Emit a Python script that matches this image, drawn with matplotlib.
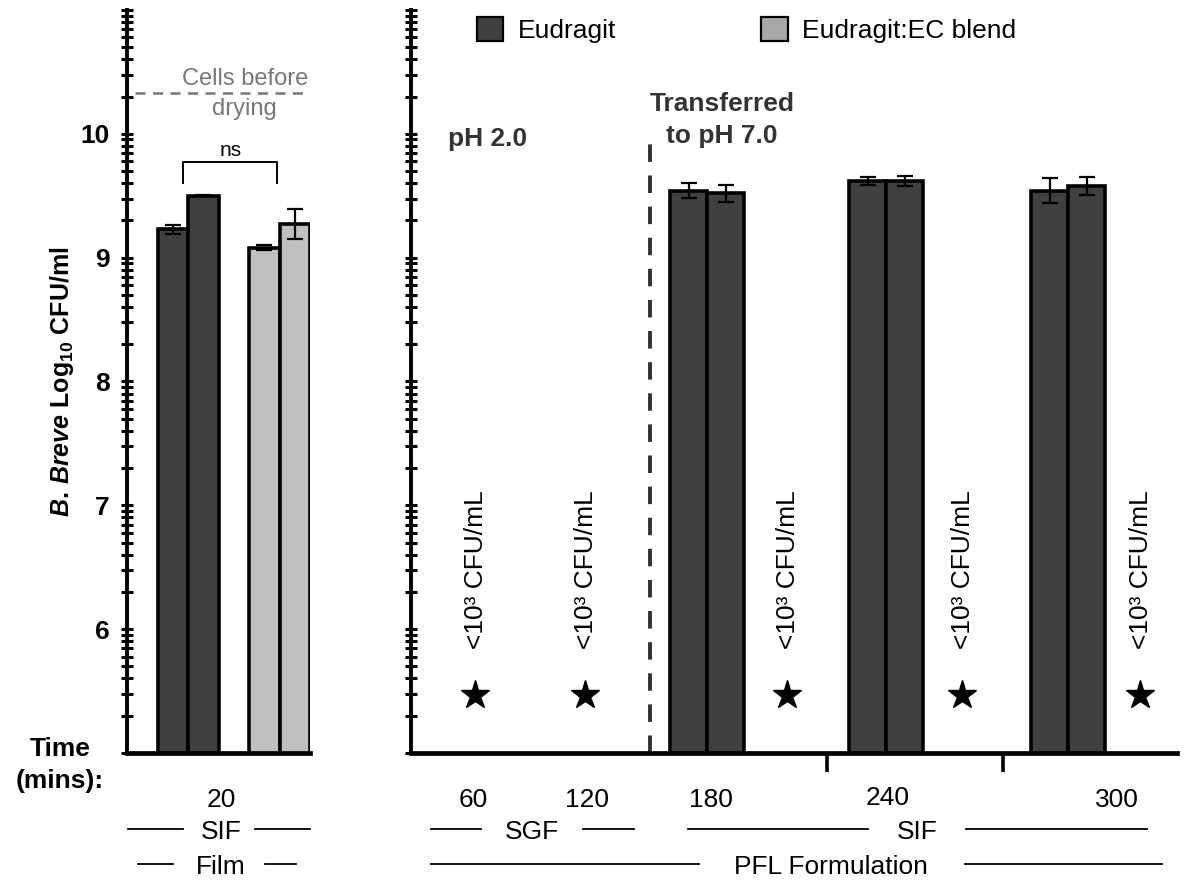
import numpy as np
import matplotlib.pyplot as plt
from matplotlib.lines import Line2D
from matplotlib.patches import Patch

plt.rcParams['font.family'] = ['Liberation Sans', 'DejaVu Sans']
plt.rcParams['mathtext.fontset'] = 'custom'
plt.rcParams['mathtext.rm'] = 'Liberation Sans:bold'
plt.rcParams['mathtext.it'] = 'Liberation Sans:bold:italic'
plt.rcParams['mathtext.bf'] = 'Liberation Sans:bold'

# data (log10 CFU/ml)
series = ['Eudragit', 'Eudragit:EC blend']
film_vals = [[9.23, 9.50], [9.08, 9.27]]
film_err = [[0.035, 0.006], [0.02, 0.12]]

times = ['60', '120', '180', '240', '300']
pfl_times = ['180', '240', '300']
pfl_vals = [[9.54, 9.52], [9.62, 9.62], [9.54, 9.58]]
pfl_err = [[0.06, 0.07], [0.03, 0.04], [0.10, 0.07]]
cells_before = 10.33

dark = '#404040'
light = '#c0c0c0'

W, H = 1184, 884
fig = plt.figure(figsize=(W / 100, H / 100), dpi=100)

def fx(px):
    return px / W

def fy(py):
    return 1 - py / H

ax_l = fig.add_axes([fx(127), fy(753), fx(310 - 127), (753 - 10) / H])
ax_r = fig.add_axes([fx(411), fy(753), fx(1177 - 411), (753 - 10) / H])

major = np.arange(5, 12)
minor = np.array([n + np.log10(k) for n in range(5, 11) for k in range(2, 10)])

for ax in (ax_l, ax_r):
    ax.set_ylim(5, 11)
    ax.set_yticks(major)
    ax.set_yticks(minor, minor=True)
    ax.tick_params(axis='y', which='both', direction='inout', length=9, width=2.2, pad=8)
    for s in ('top', 'right'):
        ax.spines[s].set_visible(False)
    ax.spines['left'].set_linewidth(2.8)
    ax.spines['bottom'].set_linewidth(3.4)
    ax.patch.set_alpha(0)

ax_l.set_yticklabels(['', '6', '7', '8', '9', '10', ''], fontsize=19, fontweight='bold')
ax_r.set_yticklabels([])

# --- left panel: film, SIF 20 min
ax_l.set_xlim(0, 6)
ax_l.set_xticks([])
centers_l = [2.0, 5.0]
cols = [dark, light]
for g in range(2):
    xs = [centers_l[g] - 0.5, centers_l[g] + 0.5]
    ax_l.bar(xs, film_vals[g], width=1.0, bottom=0, color=cols[g], edgecolor='black',
             linewidth=2.6, zorder=2)
    ax_l.errorbar(xs, film_vals[g], yerr=film_err[g], fmt='none', ecolor='black',
                  elinewidth=1.6, capsize=6, capthick=1.6, zorder=3)

ax_l.plot([0.25, 5.95], [cells_before] * 2, ls=(0, (4, 3)), color='#777777', lw=1.8)
ax_l.text(5.95, cells_before + 0.02, 'Cells before', ha='right', va='bottom',
          fontsize=17, color='#777777')
ax_l.text(3.85, cells_before - 0.04, 'drying', ha='center', va='top',
          fontsize=17, color='#777777')
ax_l.plot([1.85, 1.85, 4.93, 4.93], [9.60, 9.77, 9.77, 9.60], color='black', lw=1.4)
ax_l.text(3.39, 9.79, 'ns', ha='center', va='bottom', fontsize=15)

# --- right panel: PFL formulation
ax_r.set_xlim(0, 20.7)
pair_centers = [8.0, 12.84, 17.76]
star_x = [1.73, 4.70, 10.16, 14.9, 19.7]
for i, t in enumerate(pfl_times):
    xs = [pair_centers[i] - 0.5, pair_centers[i] + 0.5]
    ax_r.bar(xs, pfl_vals[i], width=1.0, bottom=0, color=dark, edgecolor='black',
             linewidth=2.6, zorder=2)
    ax_r.errorbar(xs, pfl_vals[i], yerr=pfl_err[i], fmt='none', ecolor='black',
                  elinewidth=1.6, capsize=6, capthick=1.6, zorder=3)

for sx in star_x:
    ax_r.plot(sx, 5.47, marker='*', markersize=21, color='black', zorder=3)
    ax_r.text(sx + 0.02, 5.84, '<10³ CFU/mL', rotation=90, ha='center', va='bottom',
              fontsize=19)

ax_r.axvline(6.46, ymin=0, ymax=5 / 6, color='#333333', lw=2.8, ls=(0, (4.5, 3.5)))
ax_r.text(1.0, 9.96, 'pH 2.0', fontsize=19, fontweight='bold', color='#333333',
          ha='left', va='center')
ax_r.text(8.4, 10.11, 'Transferred\nto pH 7.0', fontsize=19, fontweight='bold',
          color='#333333', ha='center', va='center', linespacing=1.45,
          multialignment='center')

ax_r.set_xticks([11.24, 16.0])
ax_r.set_xticklabels([])
ax_r.tick_params(axis='x', direction='out', length=14, width=2.6)

handles = [Patch(facecolor=dark, edgecolor='black', linewidth=1.6),
           Patch(facecolor='#a9a9a9', edgecolor='black', linewidth=1.6)]
fig.legend(handles, series, loc='center left', bbox_to_anchor=(fx(453), fy(30)),
           ncol=2, frameon=False, fontsize=19, handlelength=1.0, handleheight=1.0,
           handletextpad=0.55, columnspacing=5.5)

# y label
fig.text(fx(62), fy(382), r'$\it{B.\,Breve}$ Log$_{10}$ CFU/ml', rotation=90,
         ha='center', va='center', fontsize=18, fontweight='bold')
fig.text(fx(60), fy(765), 'Time\n(mins):', ha='center', va='center', fontsize=19,
         fontweight='bold', linespacing=1.4)

# time labels
fig.text(fx(221), fy(800), '20', ha='center', va='center', fontsize=19)
time_px = [473, 587, 711, 888, 1117]
time_py = [800, 800, 800, 798, 800]
for t, px, py in zip(times, time_px, time_py):
    fig.text(fx(px), fy(py), t, ha='center', va='center', fontsize=19)

# group labels with side rules
groups = [('SIF', 221, 832, (128, 183), (255, 310)),
          ('Film', 221, 867, (138, 173), (265, 296)),
          ('SGF', 532, 832, (431, 481), (583, 634)),
          ('SIF', 917, 832, (688, 868), (966, 1147)),
          ('PFL Formulation', 831, 867, (431, 699), (965, 1162))]
for label, cx, cy, seg1, seg2 in groups:
    fig.text(fx(cx), fy(cy), label, ha='center', va='center', fontsize=19)
    for a, b in (seg1, seg2):
        fig.add_artist(Line2D([fx(a), fx(b)], [fy(cy - 3), fy(cy - 3)], color='black', lw=1.3))

fig.savefig('out.png', dpi=100)
